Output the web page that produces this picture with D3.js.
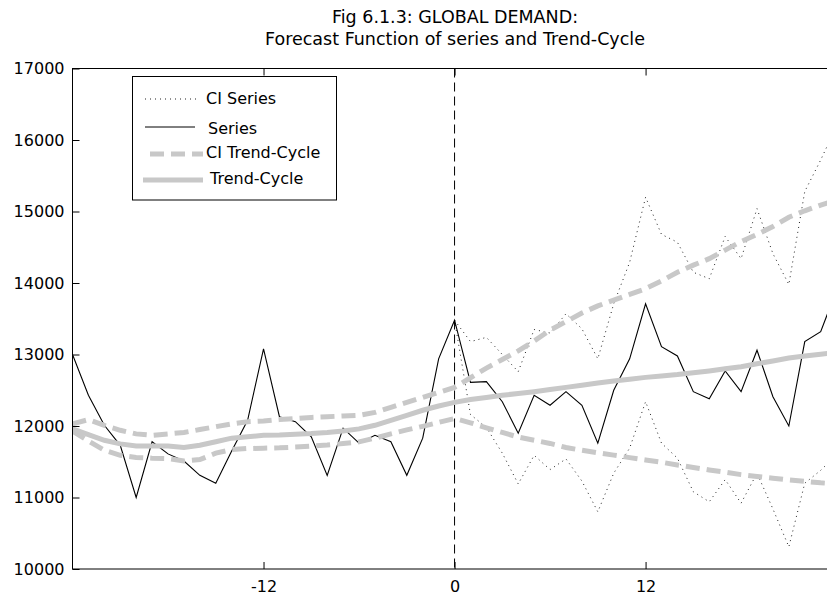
<!DOCTYPE html>
<html>
<head>
<meta charset="utf-8">
<script src="https://cdn.jsdelivr.net/npm/d3@7"></script>
<style>
  body { margin: 0; background: #fff; }
  svg { display: block; font-family: "DejaVu Sans", sans-serif; }
</style>
</head>
<body>
<div id="app"></div>
<script>
// periods relative to forecast origin
const periods = [-24,-23,-22,-21,-20,-19,-18,-17,-16,-15,-14,-13,-12,-11,-10,-9,-8,-7,-6,-5,-4,-3,-2,-1,
  0,1,2,3,4,5,6,7,8,9,10,11,12,13,14,15,16,17,18,19,20,21,22,23,24]
const fcPeriods = [0,1,2,3,4,5,6,7,8,9,10,11,12,13,14,15,16,17,18,19,20,21,22,23,24]

const series = [13000,12430,12010,11730,11000,11780,11610,11510,11310,11200,11650,12080,13080,12130,12060,11850,
  11310,11970,11760,11870,11780,11310,11830,12940,13480,12610,12620,12340,11900,12430,12290,12480,12290,11760,
  12500,12940,13710,13110,12980,12480,12380,12770,12480,13060,12410,12000,13180,13320,13900]

const trend = [11960,11880,11800,11750,11720,11720,11720,11700,11730,11780,11830,11850,11870,11875,11885,11895,
  11910,11930,11960,12010,12080,12150,12220,12280,12330,12370,12400,12430,12455,12480,12510,12540,12570,12600,
  12630,12655,12680,12700,12720,12745,12770,12800,12830,12870,12910,12950,12980,13005,13030]

const trendUpper = [12030,12090,12010,11940,11890,11870,11890,11910,11950,11990,12030,12060,12070,12090,12105,
  12120,12130,12140,12150,12190,12260,12330,12400,12470,12540,12675,12810,12930,13050,13190,13340,13460,13580,
  13680,13760,13840,13920,14030,14150,14250,14340,14460,14580,14680,14790,14920,15010,15090,15160]

const trendLower = [11930,11790,11660,11590,11560,11550,11545,11510,11530,11620,11670,11685,11690,11695,11705,
  11720,11733,11755,11778,11830,11890,11945,11995,12050,12105,12045,11975,11910,11845,11800,11756,11700,11660,
  11625,11593,11558,11525,11493,11455,11420,11385,11355,11320,11295,11270,11245,11225,11205,11190]

const ciUpper = [13480,13180,13240,13000,12760,13350,13300,13570,13360,12940,13710,14290,15200,14680,14570,
  14150,14060,14650,14340,15040,14410,13980,15280,15720,16200]
const ciLower = [13480,12160,11980,11620,11190,11590,11390,11540,11230,10800,11340,11690,12340,11760,11550,
  11080,10940,11250,10920,11340,10840,10310,11200,11380,11600]

const xTicks = [-12, 0, 12]
const yTicks = [10000,11000,12000,13000,14000,15000,16000,17000]
const titleLines = ["Fig 6.1.3: GLOBAL DEMAND:", "Forecast Function of series and Trend-Cycle"]
const legendNames = ["CI Series", "Series", "CI Trend-Cycle", "Trend-Cycle"]

const W = 827, H = 595
const mLeft = 72.5, mRight = 836.6, mTop = 68.5, mBottom = 569

const GRAY = "#c8c8c8"

const fx = d3.scaleLinear().domain([-24, 24]).range([mLeft, mRight])
const fy = d3.scaleLinear().domain([10000, 17000]).range([mBottom, mTop])

const svg = d3.select("#app").append("svg")
  .attr("width", W)
  .attr("height", H)

svg.append("rect").attr("width", W).attr("height", H).attr("fill", "#fff")

svg.append("clipPath").attr("id", "plot")
  .append("rect")
    .attr("x", mLeft).attr("y", mTop)
    .attr("width", mRight - mLeft).attr("height", mBottom - mTop)

// title
svg.append("g")
    .attr("font-size", 17.5)
    .attr("text-anchor", "middle")
  .selectAll("text")
  .data(titleLines)
  .join("text")
    .attr("x", 455)
    .attr("y", (d, i) => 23 + i * 22)
    .text(d => d)

const plot = svg.append("g").attr("clip-path", "url(#plot)")

const line = (xs, ys) => d3.line()
  .x((d, i) => fx(xs[i]))
  .y(d => fy(d))(ys)

// forecast origin
plot.append("line")
    .attr("x1", fx(0)).attr("x2", fx(0))
    .attr("y1", mTop).attr("y2", mBottom)
    .attr("stroke", "#000")
    .attr("stroke-dasharray", "9,5")

// CI series (dotted)
plot.selectAll("path.ci")
  .data([ciUpper, ciLower])
  .join("path")
    .attr("class", "ci")
    .attr("d", d => line(fcPeriods, d))
    .attr("fill", "none")
    .attr("stroke", "#222")
    .attr("stroke-width", 1)
    .attr("stroke-dasharray", "1,4")

// series
plot.append("path")
    .attr("d", line(periods, series))
    .attr("fill", "none")
    .attr("stroke", "#000")
    .attr("stroke-width", 1.1)

// CI trend-cycle
plot.selectAll("path.cit")
  .data([trendUpper, trendLower])
  .join("path")
    .attr("class", "cit")
    .attr("d", d => line(periods, d))
    .attr("fill", "none")
    .attr("stroke", GRAY)
    .attr("stroke-width", 5)
    .attr("stroke-dasharray", "14,7")

// trend-cycle
plot.append("path")
    .attr("d", line(periods, trend))
    .attr("fill", "none")
    .attr("stroke", GRAY)
    .attr("stroke-width", 5)

// axes box
svg.append("rect")
    .attr("x", mLeft).attr("y", mTop)
    .attr("width", mRight - mLeft).attr("height", mBottom - mTop)
    .attr("fill", "none")
    .attr("stroke", "#000")

const gy = svg.append("g")
    .attr("transform", `translate(${mLeft},0)`)
    .call(d3.axisLeft(fy).tickValues(yTicks).tickFormat(d => String(d))
      .tickSizeInner(-7).tickSizeOuter(0).tickPadding(8))
gy.select(".domain").remove()
gy.selectAll("text").attr("font-size", 16).attr("font-family", "DejaVu Sans").attr("fill", "#000")

const gx = svg.append("g")
    .attr("transform", `translate(0,${mBottom})`)
    .call(d3.axisBottom(fx).tickValues(xTicks).tickFormat(d => String(d))
      .tickSizeInner(-7).tickSizeOuter(0).tickPadding(12))
gx.select(".domain").remove()
gx.selectAll("text").attr("font-size", 16).attr("font-family", "DejaVu Sans").attr("fill", "#000")

const gt = svg.append("g")
    .attr("transform", `translate(0,${mTop})`)
    .call(d3.axisTop(fx).tickValues(xTicks).tickFormat("")
      .tickSizeInner(-7).tickSizeOuter(0))
gt.select(".domain").remove()

// legend
const lg = svg.append("g")
lg.append("rect")
    .attr("x", 132.5).attr("y", 76.5)
    .attr("width", 204).attr("height", 123.5)
    .attr("fill", "#fff")
    .attr("stroke", "#000")

const legendRows = [
  {x1: 145, x2: 197, ly: 99, tx: 206, ty: 98, stroke: "#222", w: 1, dash: "1,4"},
  {x1: 145, x2: 195, ly: 127, tx: 208, ty: 128, stroke: "#000", w: 1, dash: null},
  {x1: 150, x2: 203, ly: 154, tx: 206, ty: 152, stroke: GRAY, w: 5, dash: "14,7"},
  {x1: 143, x2: 203, ly: 180, tx: 210, ty: 178, stroke: GRAY, w: 5, dash: null}
]
const rows = lg.selectAll("g.row")
  .data(legendRows)
  .join("g")
    .attr("class", "row")
rows.append("line")
    .attr("x1", d => d.x1).attr("x2", d => d.x2)
    .attr("y1", d => d.ly).attr("y2", d => d.ly)
    .attr("stroke", d => d.stroke)
    .attr("stroke-width", d => d.w)
    .attr("stroke-dasharray", d => d.dash)
rows.append("text")
    .attr("x", d => d.tx)
    .attr("y", d => d.ty)
    .attr("dy", "0.35em")
    .attr("font-size", 16)
    .text((d, i) => legendNames[i])
</script>
</body>
</html>
